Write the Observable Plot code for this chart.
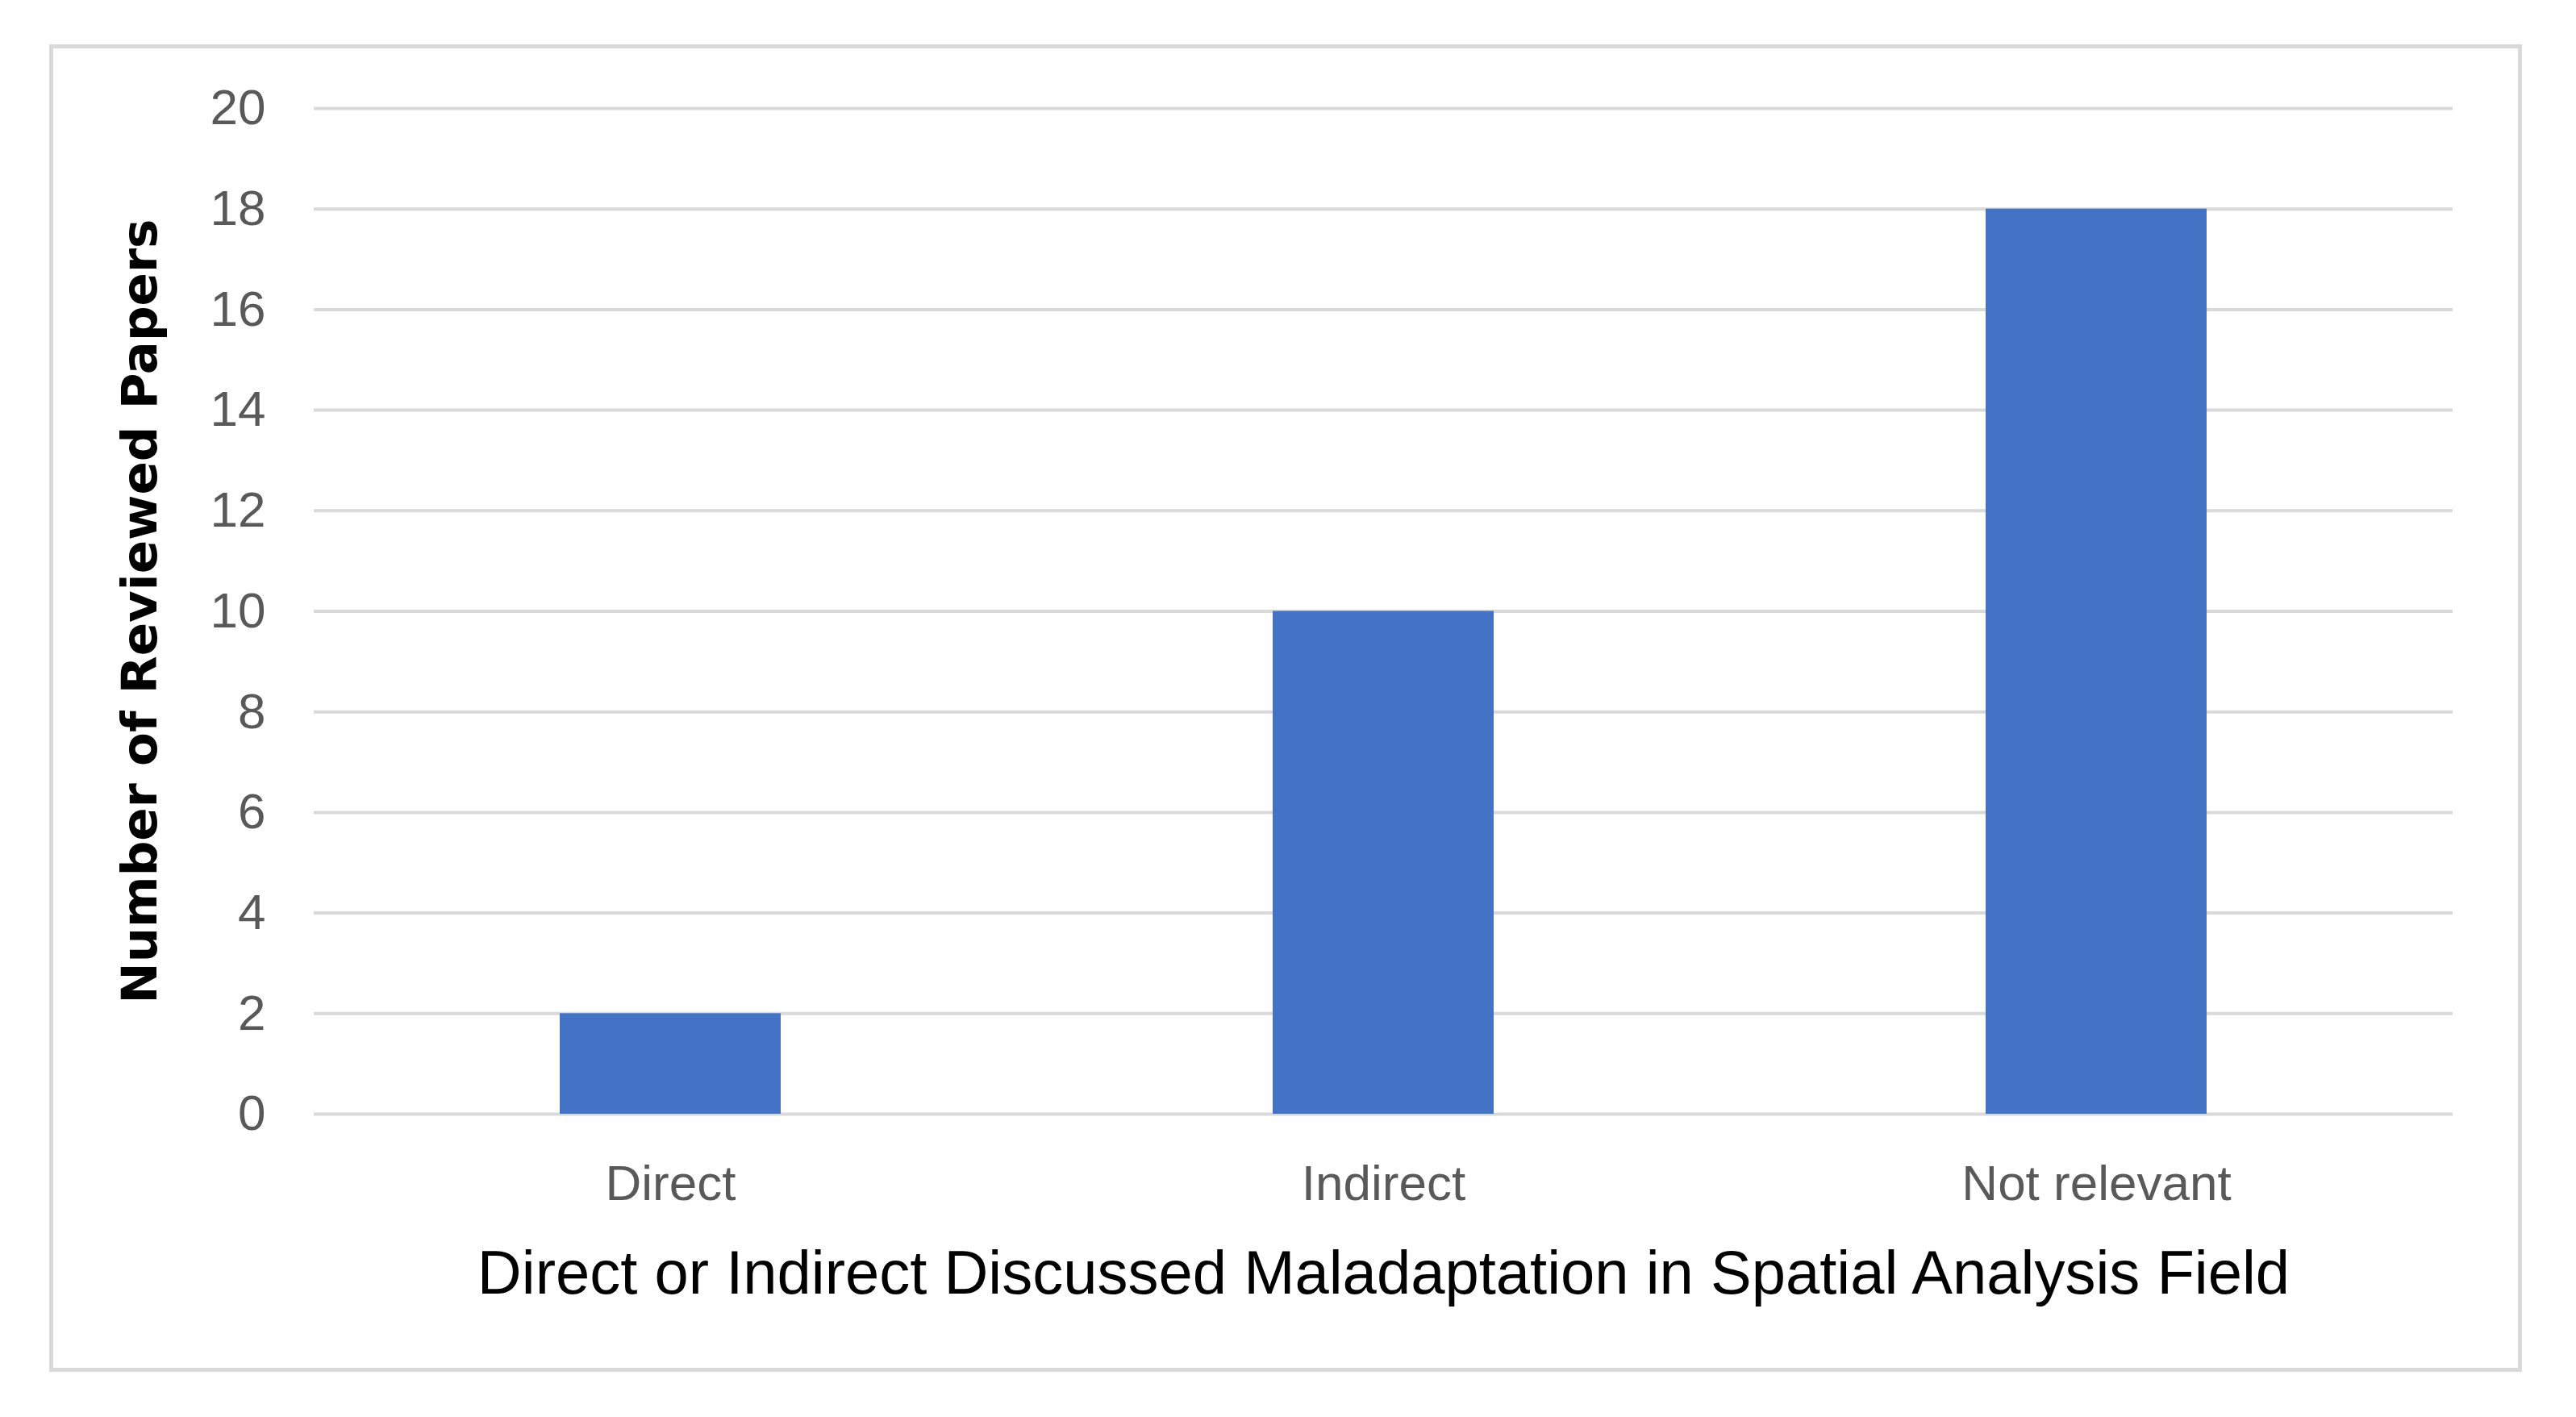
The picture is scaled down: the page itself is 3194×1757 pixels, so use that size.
<!DOCTYPE html>
<html>
<head>
<meta charset="utf-8">
<script src="https://cdn.jsdelivr.net/npm/d3@7"></script>
<script src="https://cdn.jsdelivr.net/npm/@observablehq/plot@0.6"></script>
<style>
  html, body { margin: 0; padding: 0; background: #ffffff; }
  #wrap { position: relative; width: 3194px; height: 1757px; }
  #border { position: absolute; left: 61px; top: 55px; width: 3056px; height: 1636px; border: 5px solid #d9d9d9; box-sizing: content-box; }
  #chart { position: absolute; left: 0; top: 0; }
</style>
</head>
<body>
<div id="wrap"><div id="border"></div><div id="chart"></div></div>
<script>
const categories = ["Direct", "Indirect", "Not relevant"];
const counts = [2, 10, 18];
const yTicks = [0, 2, 4, 6, 8, 10, 12, 14, 16, 18, 20];
const yLabel = "Number of Reviewed Papers";
const xLabel = "Direct or Indirect Discussed Maladaptation in Spatial Analysis Field";

const data = categories.map((c, i) => ({category: c, value: counts[i]}));
const tickFont = "'Liberation Sans', Arial, sans-serif";

const chart = Plot.plot({
  width: 3194,
  height: 1757,
  marginLeft: 389,
  marginRight: 153,
  marginTop: 134,
  marginBottom: 376,
  style: {background: "transparent", overflow: "visible"},
  x: {domain: categories, paddingInner: 0.69, paddingOuter: 0.345},
  y: {domain: [0, 20]},
  marks: [
    Plot.gridY(yTicks, {stroke: "#d9d9d9", strokeWidth: 4, strokeOpacity: 1}),
    Plot.barY(data, {x: "category", y: "value", fill: "#4472C4"}),
    Plot.axisY(yTicks, {tickSize: 0, tickPadding: 60, tickFormat: d => String(d), label: null, fontSize: 62, fill: "#595959", fontFamily: tickFont}),
    Plot.axisX({tickSize: 0, tickPadding: 62, label: null, fontSize: 62, fill: "#595959", fontFamily: tickFont}),
    Plot.text([yLabel], {frameAnchor: "left", dx: -215, rotate: -90, text: d => d, fontSize: 61, fontWeight: "bold", fontFamily: "'DejaVu Sans', sans-serif", fill: "#000000", textAnchor: "middle", lineAnchor: "middle"}),
    Plot.text([xLabel], {frameAnchor: "bottom", dy: 198, text: d => d, fontSize: 76, fontFamily: tickFont, fill: "#000000", textAnchor: "middle", lineAnchor: "middle"})
  ]
});
document.getElementById("chart").appendChild(chart);
</script>
</body>
</html>
